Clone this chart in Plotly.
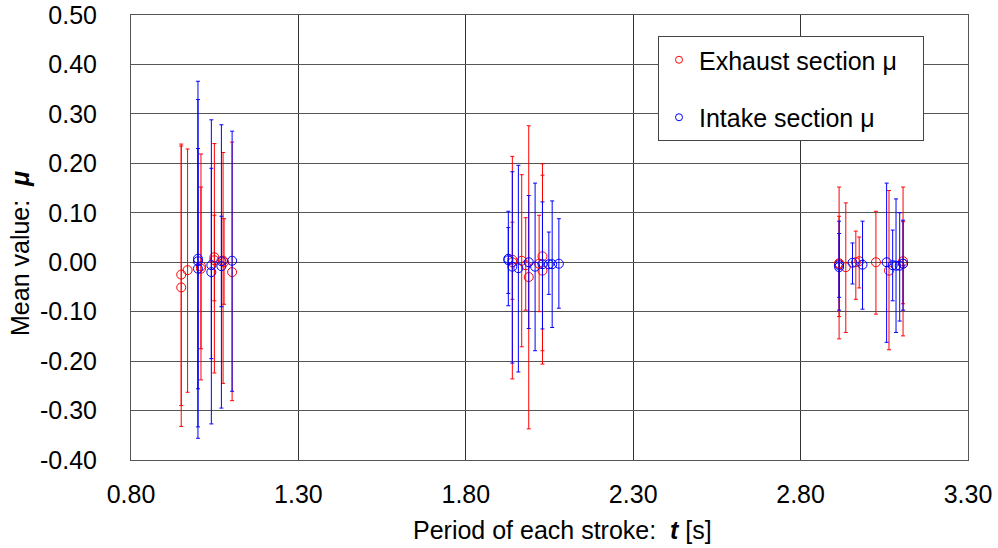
import plotly.graph_objects as go

# ---------------- data ----------------
# Exhaust section (red): time, mean, upper bound, lower bound
ex_t = [0.950, 0.950, 0.969, 1.009, 1.009, 1.049, 1.049, 1.075, 1.078, 1.102,
        1.939, 1.939, 1.967, 1.979, 1.988, 2.019, 2.029, 2.029,
        2.915, 2.915, 2.935, 2.965, 2.975, 3.025, 3.064, 3.106, 3.106]
ex_mean = [-0.025, -0.051, -0.016, -0.013, -0.008, 0.010, 0.004, 0.003, 0.000, -0.020,
           0.005, 0.000, 0.003, -0.006, -0.030, -0.003, 0.012, -0.017,
           -0.004, -0.002, -0.010, 0.000, 0.002, 0.000, -0.017, 0.002, -0.003]
ex_hi = [0.239, 0.235, 0.229, 0.219, 0.152, 0.240, 0.095, 0.222, 0.088, 0.243,
         0.214, 0.081, 0.177, 0.090, 0.276, 0.095, 0.199, 0.176,
         0.152, 0.093, 0.120, 0.063, 0.051, 0.103, 0.145, 0.152, 0.082]
ex_lo = [-0.332, -0.290, -0.263, -0.238, -0.175, -0.224, -0.078, -0.245, -0.085, -0.280,
         -0.236, -0.075, -0.171, -0.097, -0.337, -0.100, -0.206, -0.179,
         -0.155, -0.110, -0.142, -0.075, -0.052, -0.105, -0.177, -0.149, -0.084]

# Intake section (blue)
in_t = [1.000, 1.000, 1.000, 1.040, 1.040, 1.070, 1.070, 1.102,
        1.927, 1.927, 1.939, 1.957, 1.988, 2.007, 2.029, 2.048, 2.058, 2.078,
        2.915, 2.915, 2.955, 2.985, 3.057, 3.075, 3.085, 3.096, 3.106]
in_mean = [0.007, 0.002, -0.013, -0.006, -0.020, 0.002, -0.008, 0.003,
           0.007, 0.004, -0.009, -0.012, 0.000, -0.009, -0.004, -0.004, -0.004, -0.003,
           -0.006, -0.010, -0.001, -0.005, 0.000, -0.006, -0.007, -0.007, -0.003]
in_hi = [0.366, 0.329, 0.230, 0.288, 0.190, 0.278, 0.093, 0.265,
         0.103, 0.070, 0.183, 0.196, 0.135, 0.160, 0.122, 0.061, 0.124, 0.088,
         0.083, 0.058, 0.039, 0.083, 0.160, 0.065, 0.128, 0.100, 0.085]
in_lo = [-0.356, -0.333, -0.256, -0.327, -0.195, -0.295, -0.090, -0.261,
         -0.088, -0.063, -0.204, -0.222, -0.134, -0.179, -0.135, -0.065, -0.132, -0.093,
         -0.097, -0.071, -0.044, -0.095, -0.162, -0.078, -0.142, -0.119, -0.097]

x_ticks = [0.80, 1.30, 1.80, 2.30, 2.80, 3.30]
x_labels = ["0.80", "1.30", "1.80", "2.30", "2.80", "3.30"]
y_ticks = [0.50, 0.40, 0.30, 0.20, 0.10, 0.00, -0.10, -0.20, -0.30, -0.40]
y_labels = ["0.50", "0.40", "0.30", "0.20", "0.10", "0.00", "-0.10", "-0.20", "-0.30", "-0.40"]

series_names = ["Exhaust section μ", "Intake section μ"]
x_title = "Period of each stroke:\u00a0\u00a0<b><i>t</i></b> [s]"
y_title = "Mean value:\u00a0 <b><i>μ</i></b>"

RED = "#FF0000"
BLUE = "#0000FF"
FONT = "Liberation Sans, Arial, sans-serif"
FS = 25
NB = "\u00a0"

fig = go.Figure()


def add_series(t, mean, hi, lo, color):
    plus = [h - m for h, m in zip(hi, mean)]
    minus = [m - l for m, l in zip(mean, lo)]
    fig.add_trace(go.Scatter(
        x=t, y=mean, mode="markers", showlegend=False,
        marker=dict(symbol="circle-open", size=9, color=color, line=dict(width=1, color=color)),
        error_y=dict(type="data", symmetric=False, array=plus, arrayminus=minus,
                     color=color, thickness=1, width=2),
        hoverinfo="x+y",
    ))


add_series(ex_t, ex_mean, ex_hi, ex_lo, RED)
add_series(in_t, in_mean, in_hi, in_lo, BLUE)

# legend-only entries (smaller markers as in the reference legend)
for name, color, grp in [(series_names[0], RED, "a"), (series_names[1], BLUE, "b")]:
    fig.add_trace(go.Scatter(
        x=[None], y=[None], mode="markers", name=name + NB * 3, legendgroup=grp,
        marker=dict(symbol="circle-open", size=7, color=color, line=dict(width=1, color=color)),
    ))

L, R, T, B = 131, 30, 15, 88
PW = 998 - L - R
PH = 548 - T - B


def px_x(px):
    return (px - L) / PW


def px_y(py):
    return 1 - (py - T) / PH


fig.update_layout(
    width=998, height=548,
    margin=dict(l=L, r=R, t=T, b=B),
    paper_bgcolor="white", plot_bgcolor="white",
    font=dict(family=FONT, size=FS, color="black"),
    legend=dict(
        x=px_x(658), y=px_y(36), xanchor="left", yanchor="top",
        bgcolor="white", bordercolor="#444444", borderwidth=1,
        font=dict(size=FS), tracegroupgap=22, itemsizing="trace", itemwidth=30,
    ),
    xaxis=dict(
        range=[0.8, 3.3], tickvals=x_ticks, ticktext=x_labels, automargin=False,
        showgrid=True, gridcolor="#333333", gridwidth=1,
        showline=True, linecolor="#555555", linewidth=1, mirror=True,
        zeroline=False, ticks="", ticklabelstandoff=12,
    ),
    yaxis=dict(
        range=[-0.4, 0.5], tickvals=y_ticks, ticktext=y_labels, automargin=False,
        showgrid=True, gridcolor="#555555", gridwidth=1,
        showline=True, linecolor="#555555", linewidth=1, mirror=True,
        zeroline=False, ticks="", ticklabelstandoff=28,
    ),
    annotations=[
        dict(text=x_title, xref="paper", yref="paper", x=px_x(562), y=px_y(530),
             xanchor="center", yanchor="middle", showarrow=False, font=dict(size=FS)),
        dict(text=y_title, xref="paper", yref="paper", x=px_x(20), y=px_y(254),
             xanchor="center", yanchor="middle", textangle=-90, showarrow=False,
             font=dict(size=FS)),
    ],
)

# remove the default page margin so the figure sits at the window's top-left corner
fig.write_html("out.html", config={"displayModeBar": False},
               post_script="document.body.style.margin='0';")
